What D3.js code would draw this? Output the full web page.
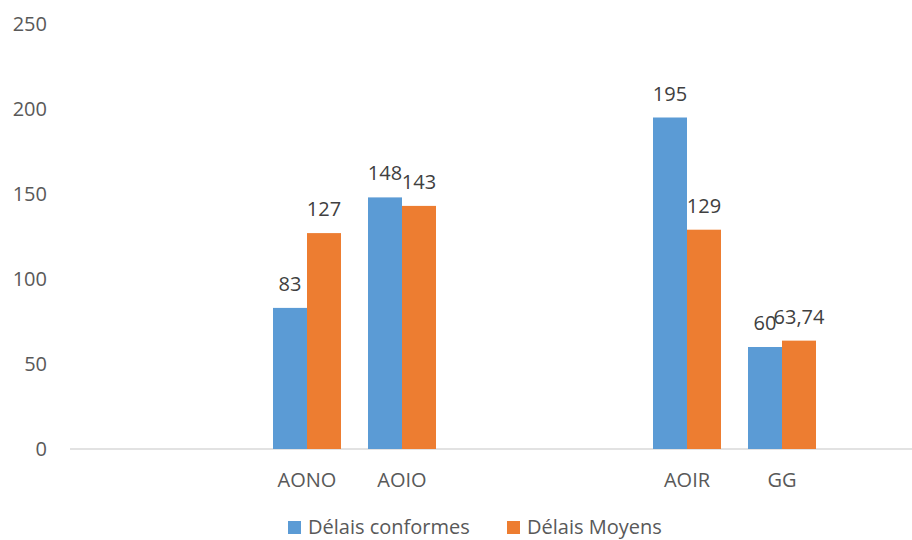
<!DOCTYPE html>
<html><head><meta charset="utf-8">
<script src="https://cdn.jsdelivr.net/npm/d3@7"></script>
<style>body{margin:0;background:#fff;} svg{display:block;}</style>
</head><body>
<svg id="chart" width="912" height="540"></svg>
<script>
const categories = ["c1", "c2", "AONO", "AOIO", "c5", "c6", "AOIR", "GG", "c9"];
const categoryLabels = ["", "", "AONO", "AOIO", "", "", "AOIR", "GG", ""];
const series = ["Délais conformes", "Délais Moyens"];
const conformes = [null, null, 83, 148, null, null, 195, 60, null];
const moyens = [null, null, 127, 143, null, null, 129, 63.74, null];
const yTicks = [0, 50, 100, 150, 200, 250];
const colors = ["#5B9BD5", "#ED7D31"];

const svg = d3.select("#chart");
const font = "'Open Sans', sans-serif";
const textColor = "#595959";
const fs = 20;

const x = d3.scaleBand().domain(categories).range([69.5, 924.5]).paddingInner(0).paddingOuter(0);
const y = d3.scaleLinear().domain([0, 250]).range([449, 24]);
const groupW = 68;
const x1 = d3.scaleBand().domain(series).range([0, groupW]);

// y tick labels
svg.append("g").selectAll("text").data(yTicks).join("text")
  .attr("x", 47).attr("y", d => y(d)).attr("dy", "0.35em")
  .attr("text-anchor", "end").attr("font-family", font).attr("font-size", fs)
  .attr("fill", textColor).text(d => d);

// axis line
svg.append("line").attr("x1", 70).attr("x2", 912).attr("y1", y(0)).attr("y2", y(0))
  .attr("stroke", "#D9D9D9").attr("stroke-width", 1.5);

const data = [conformes, moyens];
const fmt = v => String(v).replace(".", ",");
series.forEach((s, si) => {
  const pts = categories.map((c, i) => ({c, v: data[si][i]})).filter(d => d.v != null);
  const g = svg.append("g");
  g.selectAll("rect").data(pts).join("rect")
    .attr("x", d => x(d.c) + x.bandwidth() / 2 - groupW / 2 + x1(s))
    .attr("width", x1.bandwidth())
    .attr("y", d => y(d.v)).attr("height", d => y(0) - y(d.v))
    .attr("fill", colors[si]);
  g.selectAll("text").data(pts).join("text")
    .attr("x", d => x(d.c) + x.bandwidth() / 2 - groupW / 2 + x1(s) + x1.bandwidth() / 2)
    .attr("y", d => y(d.v) - 17)
    .attr("text-anchor", "middle").attr("font-family", font).attr("font-size", fs)
    .attr("fill", "#404040").text(d => fmt(d.v));
});

// x labels
svg.append("g").selectAll("text").data(categories).join("text")
  .attr("x", d => x(d) + x.bandwidth() / 2).attr("y", 487)
  .attr("text-anchor", "middle").attr("font-family", font).attr("font-size", fs)
  .attr("fill", textColor).text((d, i) => categoryLabels[i]);

// legend
const legendX = [288, 507];
series.forEach((s, i) => {
  svg.append("rect").attr("x", legendX[i]).attr("y", 521).attr("width", 13).attr("height", 13).attr("fill", colors[i]);
  svg.append("text").attr("x", legendX[i] + 20).attr("y", 534)
    .attr("font-family", font).attr("font-size", fs).attr("fill", textColor).text(s);
});
</script>
</body></html>
